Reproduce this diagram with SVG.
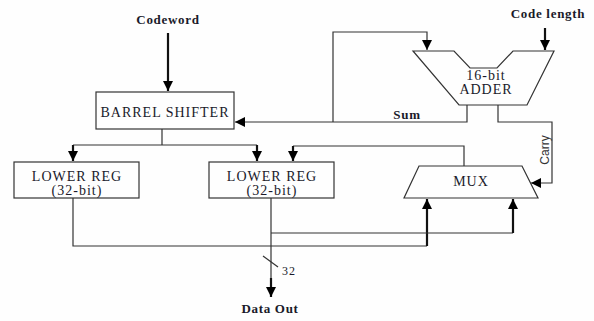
<svg xmlns="http://www.w3.org/2000/svg" width="594" height="321" viewBox="0 0 594 321">
<style>
.bg{fill:#fefefe}
.box{fill:#fefefe;stroke:#333;stroke-width:1.2}
.t{font-family:"Liberation Serif","Times New Roman",serif;font-size:14px;fill:#1a1a2a;text-anchor:middle;letter-spacing:1px}
.b{font-weight:bold;font-size:13px;letter-spacing:0.7px}
.w{fill:none;stroke:#333;stroke-width:1.2}
.k{fill:none;stroke:#111;stroke-width:2.2}
</style>
<defs>
<marker id="ah" markerUnits="userSpaceOnUse" markerWidth="10" markerHeight="10" refX="8" refY="4" orient="auto" viewBox="0 0 8 8">
<path d="M0,0 L8,4 L0,8 Z" fill="#000"/>
</marker>
</defs>
<rect class="bg" x="0" y="0" width="594" height="321"/>
<g id="connectors">
<path class="k" d="M168,33 V91" marker-end="url(#ah)"/>
<path class="k" d="M545,28 V50" stroke-width="1.8" marker-end="url(#ah)"/>
<path class="w" d="M467,105 V122 H235" marker-end="url(#ah)"/>
<path class="w" d="M333,122 V32 H427 V50" marker-end="url(#ah)"/>
<path class="w" d="M498,105 V122 H552 V183 H531" marker-end="url(#ah)"/>
<path class="w" d="M162,129 V145 M73,145 H257"/>
<path class="k" d="M73,145 V161" stroke-width="1.5" marker-end="url(#ah)"/>
<path class="k" d="M257,145 V161" stroke-width="1.5" marker-end="url(#ah)"/>
<path class="w" d="M464,166 V146 H293"/>
<path class="k" d="M293,146 V161" stroke-width="1.5" marker-end="url(#ah)"/>
<path class="w" d="M73,198 V246 H427"/>
<path class="k" d="M427,246 V199" stroke-width="2.5" marker-end="url(#ah)"/>
<path class="w" d="M271,198 V278"/>
<path class="k" d="M271,278 V297" stroke-width="2" marker-end="url(#ah)"/>
<path class="w" d="M271,233 H513"/>
<path class="k" d="M513,233 V199" stroke-width="2" marker-end="url(#ah)"/>
<path class="w" d="M263,256 L278,267" stroke-width="0.9"/>
</g>
<g id="codeword"><text class="t b" x="168" y="24">Codeword</text></g>
<g id="codelength"><text class="t b" x="548" y="18">Code length</text></g>
<g id="barrel">
<rect class="box" x="96" y="92" width="138" height="37"/>
<text class="t" x="165" y="117">BARREL SHIFTER</text>
</g>
<g id="adder">
<path class="box" d="M413,51 H454 L470,68 H497 L513,51 H554 L527,105 H459 Z"/>
<text class="t" x="486" y="80">16-bit</text>
<text class="t" x="486" y="94">ADDER</text>
</g>
<g id="reg1">
<rect class="box" x="14" y="162" width="125" height="36"/>
<text class="t" x="77" y="181">LOWER REG</text>
<text class="t" x="77" y="195">(32-bit)</text>
</g>
<g id="reg2">
<rect class="box" x="209" y="162" width="125" height="36"/>
<text class="t" x="272" y="181">LOWER REG</text>
<text class="t" x="272" y="195">(32-bit)</text>
</g>
<g id="mux">
<path class="box" d="M419,166 H522 L538,198 H404 Z"/>
<text class="t" x="471" y="186">MUX</text>
</g>
<g id="labels">
<text class="t b" x="407" y="119" font-size="12">Sum</text>
<text class="t" x="282" y="275" style="text-anchor:start;font-size:12px">32</text>
<text class="t b" x="270" y="313">Data Out</text>
<text x="549" y="150" transform="rotate(-90 549 150)" style="font-family:'Liberation Sans',Arial,sans-serif;font-size:12px;fill:#333;text-anchor:middle">Carry</text>
</g>
</svg>
